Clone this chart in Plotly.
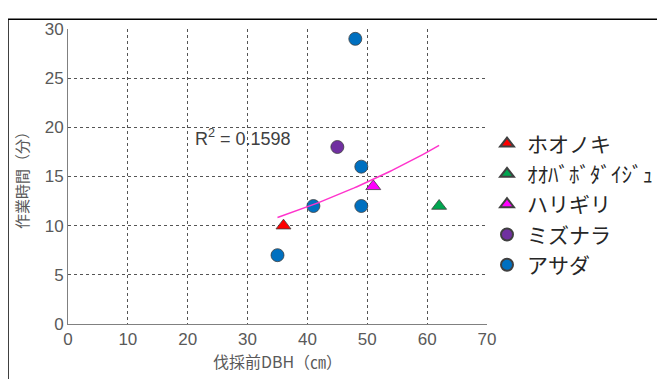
import numpy as np
import plotly.graph_objects as go

# data
species = ["ホオノキ", "ｵｵﾊﾞﾎﾞﾀﾞｲｼﾞｭ", "ハリギリ", "ミズナラ", "アサダ"]
dbh = {
    "ホオノキ": [36],
    "ｵｵﾊﾞﾎﾞﾀﾞｲｼﾞｭ": [62],
    "ハリギリ": [51],
    "ミズナラ": [45],
    "アサダ": [35, 41, 48, 49, 49],
}
work_time = {
    "ホオノキ": [10],
    "ｵｵﾊﾞﾎﾞﾀﾞｲｼﾞｭ": [12],
    "ハリギリ": [14],
    "ミズナラ": [18],
    "アサダ": [7, 12, 29, 16, 12],
}
x_ticks = [0, 10, 20, 30, 40, 50, 60, 70]
y_ticks = [0, 5, 10, 15, 20, 25, 30]

symbols = {"ホオノキ": "triangle-up", "ｵｵﾊﾞﾎﾞﾀﾞｲｼﾞｭ": "triangle-up", "ハリギリ": "triangle-up",
           "ミズナラ": "circle", "アサダ": "circle"}
colors = {"ホオノキ": "#FF0000", "ｵｵﾊﾞﾎﾞﾀﾞｲｼﾞｭ": "#00A650", "ハリギリ": "#FF00FF",
          "ミズナラ": "#7030A0", "アサダ": "#0070C0"}

fig = go.Figure()
for s in species:
    fig.add_trace(go.Scatter(
        x=dbh[s], y=work_time[s], mode="markers", name=s,
        marker=dict(symbol=symbols[s], color=colors[s], size=13,
                    line=dict(color="#404040", width=0.8)),
    ))

# exponential trendline (Excel style)
all_x = np.array(sum([dbh[s] for s in species], []), dtype=float)
all_y = np.array(sum([work_time[s] for s in species], []), dtype=float)
b, lna = np.polyfit(all_x, np.log(all_y), 1)
tx = np.linspace(all_x.min(), all_x.max(), 60)
ty = np.exp(lna) * np.exp(b * tx)
pred = lna + b * all_x
ly = np.log(all_y)
r2 = 1 - np.sum((ly - pred) ** 2) / np.sum((ly - ly.mean()) ** 2)
fig.add_trace(go.Scatter(x=tx, y=ty, mode="lines", showlegend=False,
                         line=dict(color="#FF33CC", width=1.5), hoverinfo="skip"))

fig.add_annotation(x=20.9, y=19.0, xanchor="left", yanchor="middle", showarrow=False,
                   text=f"R<sup>2</sup> = {r2:.4f}",
                   font=dict(size=18, color="#404040", family="Liberation Sans, Arial"))

# page body has an 8px margin, so offsets are relative to that
L, R, T, B = 60, 186, 16, 63
W, H = 665, 379
pw, ph = W - L - R, H - T - B
px0 = (0 - L) / pw
py0 = (H - B - 6) / ph
fig.add_shape(type="line", xref="paper", yref="paper", x0=px0, x1=px0, y0=py0, y1=-0.5,
              line=dict(color="black", width=1.5))
fig.add_shape(type="line", xref="paper", yref="paper", x0=px0, x1=1.6, y0=py0, y1=py0,
              line=dict(color="black", width=1.5))

tickfont = dict(size=17, color="#595959", family="Liberation Sans, Arial")
fig.update_xaxes(range=[0, 70], tickvals=x_ticks, showgrid=True, gridcolor="#555555",
                 griddash="dot", gridwidth=1, zeroline=False, showline=True,
                 linecolor="#808080", linewidth=1, ticks="", tickfont=tickfont,
                 title=dict(text="伐採前DBH（㎝）", standoff=2,
                            font=dict(size=16, color="#595959", family="Noto Sans CJK JP")))
fig.update_yaxes(range=[0, 30], tickvals=y_ticks, showgrid=True, gridcolor="#555555",
                 griddash="dot", gridwidth=1, zeroline=False, showline=True,
                 linecolor="#808080", linewidth=1, ticks="", tickfont=tickfont,
                 title=dict(text="作業時間（分）", standoff=12,
                            font=dict(size=15, color="#595959", family="Noto Sans CJK JP")))

fig.update_layout(
    width=W, height=H, margin=dict(l=L, r=R, t=T, b=B),
    paper_bgcolor="white", plot_bgcolor="white",
    legend=dict(x=1.0, y=0.68, xanchor="left", yanchor="top",
                font=dict(size=21, color="#262626", family="Noto Sans CJK JP"),
                itemsizing="constant", tracegroupgap=0, bgcolor="rgba(0,0,0,0)"),
)

fig.write_html("out.html")
